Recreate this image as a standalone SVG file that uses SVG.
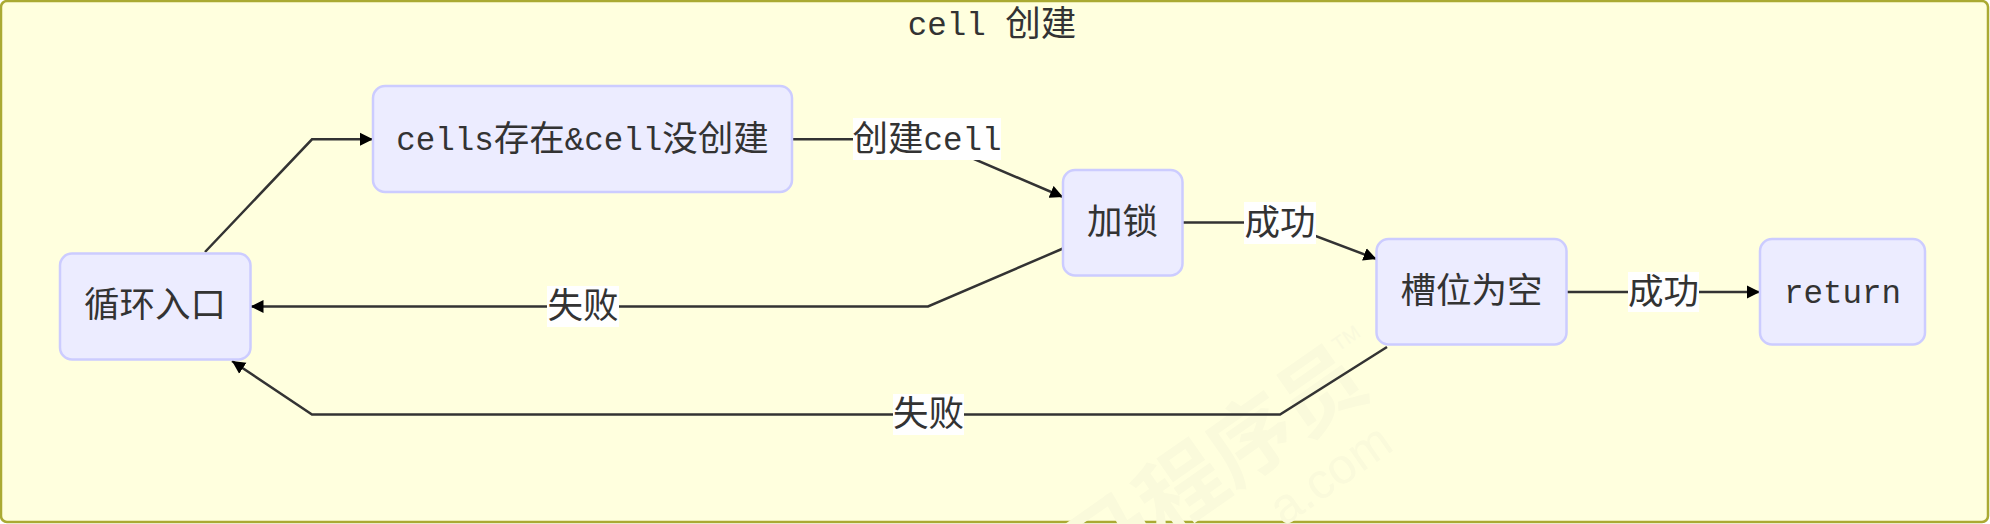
<svg xmlns="http://www.w3.org/2000/svg" width="1990" height="524" viewBox="0 0 1990 524">
<style>
text{font-family:"Liberation Mono","Noto Sans CJK SC",monospace;fill:#333;font-size:35.500px;text-anchor:middle;dominant-baseline:central}
.m{font-size:32.500px}
.n rect{fill:#ececff;stroke:#ccccff;stroke-width:2.500}
.e{fill:none;stroke:#333;stroke-width:2.500}
.lb{fill:#fff}
text.wm{font-family:"Noto Sans CJK SC",sans-serif;fill:#fafadb;font-weight:700;font-size:85px}
text.wl{font-family:"Liberation Sans",sans-serif;fill:#fafadb;font-size:50px}
text.wt{font-family:"Liberation Sans",sans-serif;fill:#f9f9dc;font-size:20px}
</style>
<defs>
<marker id="arrow" markerUnits="userSpaceOnUse" viewBox="0 0 10 10" refX="10" refY="5" markerWidth="13" markerHeight="14" orient="auto"><path d="M0 0L10 5L0 10z" fill="#000"/></marker>
</defs>
<rect x="1" y="1" width="1987" height="521" rx="6" fill="#ffffde" stroke="#aaaa33" stroke-width="2.500"/>
<g id="watermark">
<text class="wm" transform="translate(1212 458) rotate(-35)">马程序员</text>
<text class="wt" transform="translate(1346 338) rotate(-35)">TM</text>
<text class="wl" transform="translate(1330 474) rotate(-35)">a.com</text>
</g>
<text x="992" y="26"><tspan class="m">cell </tspan>创建</text>
<g id="connectors">
<path class="e" marker-end="url(#arrow)" d="M205 252L312 139.300L373 139.300"/>
<path class="e" marker-end="url(#arrow)" d="M792 139.300L928 139.300L1063 197"/>
<path class="e" marker-end="url(#arrow)" d="M1063 248.500L928 306.500L250.500 306.500"/>
<path class="e" marker-end="url(#arrow)" d="M1182.500 222.600L1280 222.600L1376.500 259"/>
<path class="e" marker-end="url(#arrow)" d="M1566.500 292L1760 292"/>
<path class="e" marker-end="url(#arrow)" d="M1387 347L1280 414.500L312 414.500L232 361"/>
</g>
<g id="edge-labels">
<rect class="lb" x="853" y="118" width="148" height="42"/><text x="927" y="141">创建<tspan class="m">cell</tspan></text>
<rect class="lb" x="547" y="286" width="72" height="41"/><text x="583" y="308">失败</text>
<rect class="lb" x="1244" y="202" width="72" height="42"/><text x="1280" y="225">成功</text>
<rect class="lb" x="1628" y="272" width="71" height="40"/><text x="1663.500" y="294">成功</text>
<rect class="lb" x="893" y="394" width="71" height="41"/><text x="928.500" y="416">失败</text>
</g>
<g id="node-entry" class="n"><rect x="60" y="253.500" width="190.500" height="106" rx="12"/><text x="155" y="307">循环入口</text></g>
<g id="node-cells" class="n"><rect x="373" y="86" width="419" height="106" rx="12"/><text x="582.500" y="141"><tspan class="m">cells</tspan>存在<tspan class="m">&amp;cell</tspan>没创建</text></g>
<g id="node-lock" class="n"><rect x="1063" y="170" width="119.500" height="105.500" rx="12"/><text x="1122.500" y="224">加锁</text></g>
<g id="node-slot" class="n"><rect x="1376.500" y="239" width="190" height="105.500" rx="12"/><text x="1471.500" y="293">槽位为空</text></g>
<g id="node-return" class="n"><rect x="1760" y="239" width="165" height="105.500" rx="12"/><text x="1842.500" y="294" class="m">return</text></g>
</svg>
